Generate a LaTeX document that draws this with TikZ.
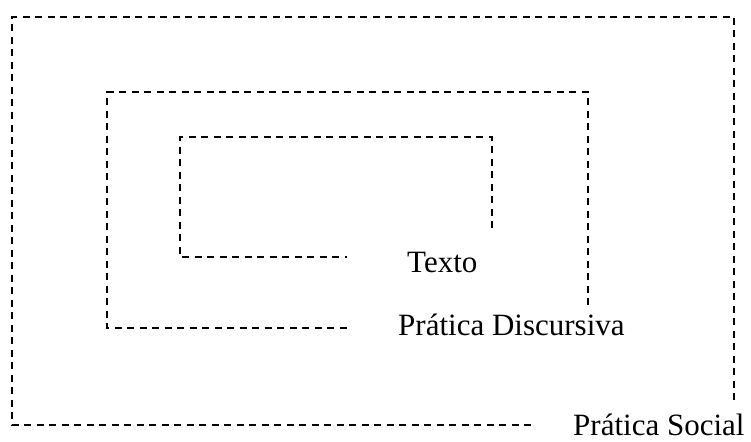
\documentclass[tikz,border=0pt]{standalone}
\usepackage{fontspec}
\setmainfont{Liberation Serif}
\usepackage{tikz}
\usetikzlibrary{positioning}
\tikzstyle{frame} = [draw, line width=2.3pt, dash pattern=on 7pt off 5.5pt]
\tikzstyle{label} = [inner sep=0pt, anchor=base west, font=\fontsize{31}{36}\selectfont]

\begin{document}
\begin{tikzpicture}[x=1pt, y=-1pt]
	\useasboundingbox (0,0) rectangle (751,441);
	\coordinate (social) at (12,17);
	\coordinate (discursiva) at (107,92);
	\coordinate (texto) at (180,137);
	
	\node [label] (lsocial) at (573,435) {Prática Social};
	\node [label] (ldiscursiva) at (398,335) {Prática Discursiva};
	\node [label] (ltexto) at (407,272) {Texto};
	
	\draw[frame] (734,400) -- (734,17) -- (social) -- (12,425) -- (535,425);
	\draw[frame] (588,305) -- (588,92) -- (discursiva) -- (107,328) -- (347,328);
	\draw[frame] (492,228) -- (492,137) -- (texto) -- (180,257) -- (347,257);
\end{tikzpicture}
\end{document}
